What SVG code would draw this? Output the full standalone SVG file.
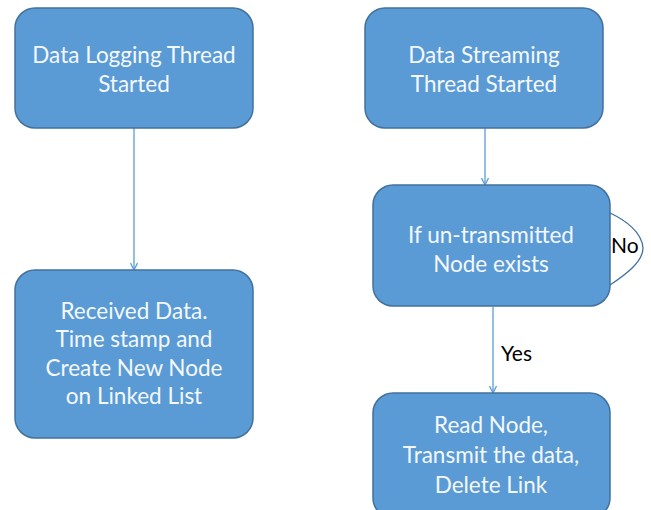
<svg xmlns="http://www.w3.org/2000/svg" width="651" height="510" viewBox="0 0 651 510">
<defs>
<style>
.box{fill:#5b9bd5;stroke:#41719c;stroke-width:1.5}
.t{font-family:Lato,"Open Sans",sans-serif;font-size:22.5px;fill:#f4f8fc;text-anchor:middle}
.lbl{font-family:Lato,"Open Sans",sans-serif;font-size:21px;fill:#000000}
.c{fill:none;stroke:#5b9bd5;stroke-width:1.3}
</style>
<marker id="ah" markerWidth="10" markerHeight="10" refX="8" refY="5" orient="auto" markerUnits="userSpaceOnUse">
<path d="M1,1.5 L8,5 L1,8.5" fill="none" stroke="#5b9bd5" stroke-width="1.3"/>
</marker>
</defs>
<rect width="651" height="510" fill="#ffffff"/>
<g id="connectors">
<line class="c" x1="134" y1="128" x2="134" y2="270" marker-end="url(#ah)"/>
<line class="c" x1="485" y1="128" x2="485" y2="185" marker-end="url(#ah)"/>
<line class="c" x1="493" y1="307" x2="493" y2="393" marker-end="url(#ah)"/>
<path class="c" d="M610,213 C625,220 642,232 643,248 C643,262 625,275 610,285" style="stroke:#41719c"/>
</g>
<g id="n1">
<rect class="box" x="15" y="8" width="238" height="120" rx="20"/>
<text class="t" x="134" y="63">Data Logging Thread</text>
<text class="t" x="134" y="92">Started</text>
</g>
<g id="n2">
<rect class="box" x="15" y="270" width="238" height="168" rx="20"/>
<text class="t" x="134" y="319">Received Data.</text>
<text class="t" x="134" y="347">Time stamp and</text>
<text class="t" x="134" y="376">Create New Node</text>
<text class="t" x="134" y="404">on Linked List</text>
</g>
<g id="n3">
<rect class="box" x="365" y="8" width="238" height="120" rx="20"/>
<text class="t" x="484" y="63">Data Streaming</text>
<text class="t" x="484" y="92">Thread Started</text>
</g>
<g id="n4">
<rect class="box" x="373" y="185" width="237" height="121" rx="20"/>
<text class="t" x="491" y="243">If un-transmitted</text>
<text class="t" x="491" y="272">Node exists</text>
<text class="lbl" x="611" y="253">No</text>
</g>
<g id="n5">
<rect class="box" x="373" y="393" width="237" height="125" rx="20"/>
<text class="t" x="491" y="433">Read Node,</text>
<text class="t" x="491" y="463">Transmit the data,</text>
<text class="t" x="491" y="493">Delete Link</text>
</g>
<text class="lbl" x="501" y="361">Yes</text>
</svg>
